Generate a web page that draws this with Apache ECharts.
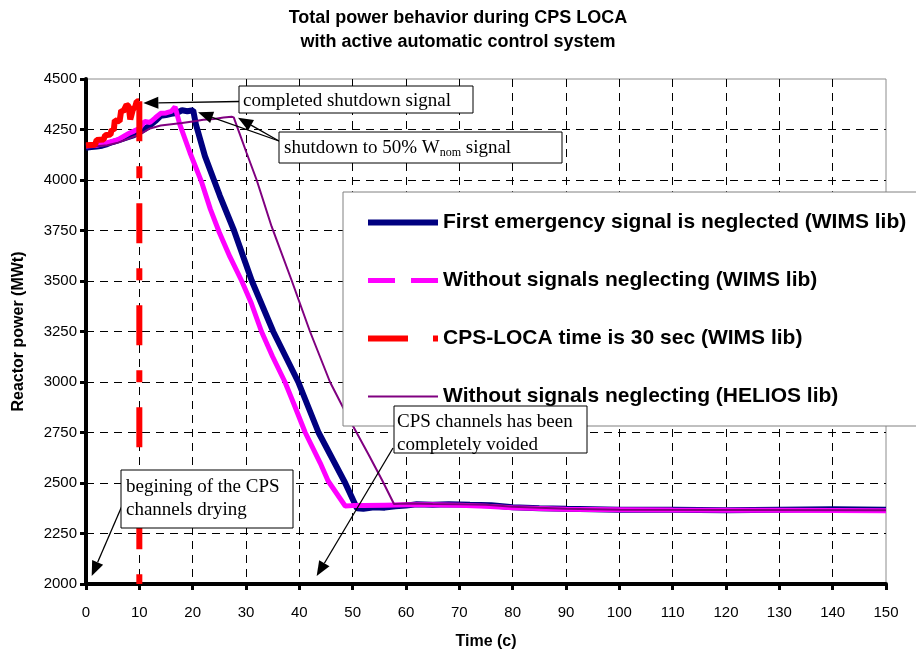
<!DOCTYPE html>
<html>
<head>
<meta charset="utf-8">
<title>Total power behavior during CPS LOCA</title>
<script src="https://cdn.jsdelivr.net/npm/echarts@6/dist/echarts.min.js"></script>
<style>
  html, body { margin: 0; padding: 0; background: #fff; }
  #chart { width: 916px; height: 655px; }
</style>
</head>
<body>
<div id="chart"></div>
<script>
// Axis ticks
const timeMin = 0, timeMax = 150, timeStep = 10;
const powerMin = 2000, powerMax = 4500, powerStep = 250;

// Series names
const navyName = 'First emergency signal is neglected (WIMS lib)';
const magentaName = 'Without signals neglecting (WIMS lib)';
const redName = 'CPS-LOCA time is 30 sec (WIMS lib)';
const purpleName = 'Without signals neglecting (HELIOS lib)';

// First emergency signal is neglected (WIMS lib)
const navyTime = [0, 1, 2, 3, 4, 5, 6, 7, 8, 9, 10, 11, 12, 13, 14, 15, 16, 17, 18, 19,
  20.1, 20.6, 22.3, 25.1, 27.75, 31.1, 35.1, 39.8, 43.6, 48.6,
  50.8, 52, 54, 56, 58, 60, 62, 65, 68, 72, 76, 80, 85, 90, 100, 110, 120, 130, 140, 150];
const navyPower = [4160, 4163, 4166, 4170, 4178, 4188, 4196, 4205, 4213, 4222, 4235, 4252, 4270, 4292, 4318, 4322, 4328, 4332, 4345, 4340,
  4345, 4276, 4118, 3922, 3750, 3500, 3250, 3000, 2750, 2500,
  2375, 2372, 2380, 2378, 2385, 2388, 2395, 2392, 2395, 2392, 2390, 2380, 2375, 2372, 2368, 2368, 2365, 2368, 2370, 2368];

// Without signals neglecting (WIMS lib)
const magentaTime = [0, 2, 4, 6, 8, 9, 10, 11, 12, 13, 14, 15, 16, 16.7, 17.0, 17.6, 19.5, 21.7, 23.3, 25,
  27.0, 29.2, 31, 32.9, 35, 37.3, 39, 41.1, 43.9, 45.4, 48.6, 50, 52, 56, 60, 65, 70, 75, 80, 90,
  100, 110, 120, 130, 140, 150];
const magentaPower = [4168, 4172, 4185, 4200, 4230, 4242, 4255, 4290, 4285, 4308, 4330, 4332, 4340, 4362, 4355, 4274, 4135, 3988, 3857, 3740,
  3619, 3500, 3390, 3250, 3125, 3000, 2890, 2750, 2600, 2510, 2386, 2388, 2388, 2390, 2392, 2392, 2390, 2385, 2378, 2370,
  2368, 2366, 2365, 2365, 2364, 2363];

// Without signals neglecting (HELIOS lib)
const purpleTime = [0, 2, 4, 6, 8, 10, 12, 14, 16, 18, 20, 22, 24, 25.8, 27.3, 27.7, 30.1, 32, 34.8, 38.6,
  42, 45.75, 48.2, 49.8, 53, 55.6, 57.75, 60, 65, 70, 75, 80, 90, 100, 120, 150];
const purplePower = [4165, 4167, 4172, 4185, 4205, 4225, 4255, 4270, 4276, 4282, 4290, 4298, 4302, 4309, 4313, 4310, 4135, 4000, 3770, 3500,
  3250, 3000, 2874, 2795, 2640, 2510, 2396, 2398, 2396, 2395, 2392, 2383, 2372, 2368, 2366, 2365];

// CPS-LOCA time is 30 sec (WIMS lib): power rise before the scram
const redRiseTime = [0, 1.7, 2.0, 3.3, 3.6, 4.6, 4.8, 5.2, 5.4, 6.3, 6.6, 7.0, 7.6, 8.0, 8.3, 8.6, 8.8, 9.2, 9.5, 10.0];
const redRisePower = [4172, 4175, 4198, 4200, 4222, 4225, 4250, 4245, 4295, 4290, 4345, 4340, 4372, 4365, 4300, 4305, 4350, 4360, 4389, 4390];
// ... and the scram itself
const redDropTime = [10.0, 10.0];
const redDropPower = [4390, 2000];

// Callout texts
const noteShutdown = 'completed shutdown signal';
const noteHalf = '{a|shutdown to 50% W}{s|nom}{a| signal}';
const noteVoided = 'CPS channels has been\ncompletely voided';
const noteDrying = 'begining of the CPS\nchannels drying';

const pair = (ts, vs) => ts.map((t, i) => [t, vs[i]]);

const SANS = '"Liberation Sans", Arial, sans-serif';
const SERIF = '"Liberation Serif", "Times New Roman", serif';

const chart = echarts.init(document.getElementById('chart'), null, { renderer: 'canvas' });

const gridDash = { color: '#000', width: 1, type: [8, 6] };

chart.setOption({
  animation: false,
  backgroundColor: '#fff',
  textStyle: { fontFamily: SANS },
  title: {
    text: 'Total power behavior during CPS LOCA\nwith active automatic control system',
    left: 'center',
    top: 1,
    textStyle: { fontSize: 18, fontWeight: 'bold', color: '#000', lineHeight: 24, fontFamily: SANS }
  },
  grid: { left: 86, right: 30, top: 79, bottom: 67, show: true, borderColor: '#8c8c8c', borderWidth: 1 },
  xAxis: {
    type: 'value', min: timeMin, max: timeMax, interval: timeStep,
    name: 'Time (c)', nameLocation: 'middle', nameGap: 50,
    nameTextStyle: { fontSize: 16, fontWeight: 'bold', color: '#000' },
    axisLine: { onZero: false, lineStyle: { color: '#000', width: 4 } },
    axisTick: { length: 6, lineStyle: { color: '#000', width: 3 } },
    axisLabel: { fontSize: 15, color: '#000', margin: 21, formatter: v => String(v) },
    splitLine: { show: true, showMinLine: false, showMaxLine: false, lineStyle: gridDash }
  },
  yAxis: {
    type: 'value', min: powerMin, max: powerMax, interval: powerStep,
    name: 'Reactor power (MWt)', nameLocation: 'middle', nameGap: 59,
    nameTextStyle: { fontSize: 16, fontWeight: 'bold', color: '#000' },
    axisLine: { onZero: false, lineStyle: { color: '#000', width: 4 } },
    axisTick: { length: 6, lineStyle: { color: '#000', width: 3 } },
    axisLabel: { fontSize: 15, color: '#000', margin: 9, formatter: v => String(v) },
    splitLine: { show: true, showMinLine: false, showMaxLine: false, lineStyle: gridDash }
  },
  legend: {
    orient: 'vertical',
    left: 343, top: 192,
    padding: [20, 80, 19, 22],
    itemGap: 37, itemWidth: 70, itemHeight: 8,
    backgroundColor: '#fff', borderColor: '#808080', borderWidth: 1,
    selectedMode: false,
    itemStyle: { opacity: 0 },
    textStyle: { fontSize: 21, fontWeight: 'bold', color: '#000', fontFamily: SANS },
    data: [
      { name: navyName, lineStyle: { color: '#000080', width: 6, type: 'solid' } },
      { name: magentaName, lineStyle: { color: '#ff00ff', width: 5, type: [27, 16] } },
      { name: redName, lineStyle: { color: '#ff0000', width: 6, type: [40, 25] } },
      { name: purpleName, lineStyle: { color: '#800080', width: 2, type: 'solid' } }
    ]
  },
  series: [
    { name: navyName, type: 'line', data: pair(navyTime, navyPower), symbol: 'none', color: '#000080',
      lineStyle: { color: '#000080', width: 6 } },
    { name: magentaName, type: 'line', data: pair(magentaTime, magentaPower), symbol: 'none', color: '#ff00ff',
      lineStyle: { color: '#ff00ff', width: 5 } },
    { name: purpleName, type: 'line', data: pair(purpleTime, purplePower), symbol: 'none', color: '#800080',
      lineStyle: { color: '#800080', width: 2 } },
    { name: redName, type: 'line', data: pair(redRiseTime, redRisePower), symbol: 'none', color: '#ff0000',
      lineStyle: { color: '#ff0000', width: 6 } },
    { name: redName, type: 'line', data: pair(redDropTime, redDropPower), symbol: 'none', color: '#ff0000',
      lineStyle: { color: '#ff0000', width: 6, type: [40, 25, 12, 25] } }
  ]
});

// Callouts: boxes are laid out in pixels, arrow tips point at data coordinates
const toPx = p => chart.convertToPixel({ gridIndex: 0 }, p);

function arrow(from, tipData) {
  const to = toPx(tipData);
  const dx = to[0] - from[0], dy = to[1] - from[1];
  const len = Math.hypot(dx, dy);
  const ux = dx / len, uy = dy / len;
  const L = 15, W = 6;
  const bx = to[0] - ux * L, by = to[1] - uy * L;
  return [
    { type: 'line', z: 100, shape: { x1: from[0], y1: from[1], x2: bx, y2: by },
      style: { stroke: '#000', lineWidth: 1.3 } },
    { type: 'polygon', z: 100, shape: { points: [to, [bx - uy * W, by + ux * W], [bx + uy * W, by - ux * W]] },
      style: { fill: '#000' } }
  ];
}

function box(x, y, w, h) {
  return { type: 'rect', z: 101, shape: { x, y, width: w, height: h },
    style: { fill: '#fff', stroke: '#000', lineWidth: 1 } };
}

const serifText = { fontSize: 19, fontFamily: SERIF, fill: '#000' };

const graphics = [
  ...arrow([239, 101.5], [10.75, 4381]),
  ...arrow([279, 141], [21.0, 4335]),
  ...arrow([279, 141], [28.5, 4308]),
  ...arrow([393, 448], [43.25, 2039]),
  ...arrow([121.5, 507], [1.07, 2039]),

  box(239, 86, 234, 27),
  { type: 'text', z: 102, x: 243, y: 101,
    style: Object.assign({ text: noteShutdown, verticalAlign: 'middle' }, serifText) },

  box(279, 132, 283, 31),
  { type: 'text', z: 102, x: 284, y: 137,
    style: { text: noteHalf, verticalAlign: 'top',
      rich: {
        a: { fontSize: 19, fontFamily: SERIF, fill: '#000', lineHeight: 22, verticalAlign: 'middle' },
        s: { fontSize: 12, fontFamily: SERIF, fill: '#000', lineHeight: 13, verticalAlign: 'bottom' }
      } } },

  box(394, 406, 193, 47),
  { type: 'text', z: 102, x: 397, y: 410,
    style: Object.assign({ text: noteVoided, verticalAlign: 'top', lineHeight: 23.5 }, serifText) },

  box(121, 470, 172, 58),
  { type: 'text', z: 102, x: 126, y: 475,
    style: Object.assign({ text: noteDrying, verticalAlign: 'top', lineHeight: 23.5 }, serifText) }
];

chart.setOption({ graphic: graphics });
</script>
</body>
</html>
